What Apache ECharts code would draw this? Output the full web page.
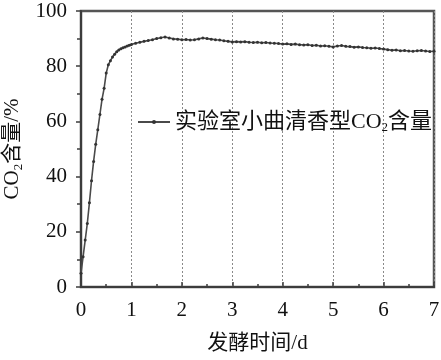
<!DOCTYPE html>
<html>
<head>
<meta charset="utf-8">
<script src="https://cdn.jsdelivr.net/npm/echarts@6/dist/echarts.min.js"></script>
<style>html,body{margin:0;padding:0;background:#fff}#c{width:441px;height:360px}</style>
</head>
<body>
<div id="c"></div>
<script>
// Day 0 -> 1, sampled hourly (t = 0 .. 1 d)
var firstDayValues = [5, 11, 17, 23, 30.5, 38.5, 45.5, 51.7, 57, 62.5, 68, 72, 77.5, 80.5, 82, 83.3, 84.3, 85.2, 85.9, 86.3, 86.7, 87.0, 87.3, 87.6, 87.9];
// Day 1 -> 7, sampled every 2 h
var laterValues = [
  88.3, 88.7, 89.0, 89.3, 89.6, 90.0, 90.3, 90.6, 90.2, 89.9, 89.8, 89.6,
  89.7, 89.5, 89.6, 89.9, 90.2, 90.0, 89.8, 89.6, 89.5, 89.2, 89.0, 88.8,
  88.9, 88.8, 88.9, 88.7, 88.6, 88.7, 88.5, 88.6, 88.4, 88.3, 88.2, 88.0,
  88.1, 87.9, 88.0, 87.8, 87.7, 87.8, 87.5, 87.6, 87.3, 87.4, 87.2, 87.0,
  87.3, 87.5, 87.2, 87.1, 86.9, 87.0, 86.8, 86.7, 86.5, 86.6, 86.4, 86.2,
  86.0, 85.8, 85.9, 85.6, 85.7, 85.5, 85.4, 85.6, 85.7, 85.5, 85.3, 85.4
];
var seriesName = '实验室小曲清香型CO₂含量';
var xName = '发酵时间/d';
var yTicks = [0, 20, 40, 60, 80, 100];
var xTicks = [0, 1, 2, 3, 4, 5, 6, 7];

var data = [];
for (var i = 0; i < firstDayValues.length; i++) data.push([i / 24, firstDayValues[i]]);
for (var j = 0; j < laterValues.length; j++) data.push([1 + (j + 1) / 12, laterValues[j]]);

var FONT = "'Liberation Serif','Noto Sans CJK SC',serif";
var dark = '#3c3c3c';
var chart = echarts.init(document.getElementById('c'), null, {renderer: 'canvas'});
chart.setOption({
  animation: false,
  backgroundColor: '#fff',
  grid: {left: 81, right: 7, top: 11, bottom: 73, containLabel: false, outerBoundsMode: 'none',
    show: true, borderColor: '#555', borderWidth: 2.5, backgroundColor: 'transparent'},
  legend: {
    left: 132, top: 106, itemWidth: 32, itemHeight: 5, itemGap: 0,
    formatter: function () { return '{a|实验室小曲清香型CO}{s|2}{a|含量}'; },
    textStyle: {
      fontFamily: FONT, fontSize: 22, color: '#111',
      rich: {
        a: {fontFamily: FONT, fontSize: 22, color: '#111', lineHeight: 25},
        s: {fontFamily: FONT, fontSize: 13, color: '#111', verticalAlign: 'bottom', lineHeight: 25, padding: [10, 0, 0, 0]}
      }
    }
  },
  xAxis: {
    type: 'value', min: 0, max: 7, interval: 1,
    name: xName, nameLocation: 'middle', nameGap: 46,
    nameTextStyle: {fontFamily: FONT, fontSize: 21, color: '#111'},
    axisLine: {show: true, onZero: false, lineStyle: {color: dark, width: 2}},
    axisTick: {show: true, inside: true, length: 5, lineStyle: {color: dark, width: 1.5}},
    minorTick: {show: true, splitNumber: 2, length: 3, lineStyle: {color: dark, width: 1.5}},
    axisLabel: {margin: 13, fontFamily: FONT, fontSize: 21, color: '#111',
      formatter: function (v) { return xTicks.indexOf(v) >= 0 ? String(v) : ''; }},
    splitLine: {show: true, lineStyle: {color: '#8a8a8a', width: 1, type: [2, 2]}}
  },
  yAxis: {
    type: 'value', min: 0, max: 100, interval: 20,
    name: '{a|CO}{s|2}{a|含量/%}', nameLocation: 'middle', nameGap: 53,
    nameTextStyle: {
      fontFamily: FONT, fontSize: 21, color: '#111',
      rich: {
        a: {fontFamily: FONT, fontSize: 21, color: '#111', lineHeight: 24},
        s: {fontFamily: FONT, fontSize: 13, color: '#111', verticalAlign: 'bottom', lineHeight: 24, padding: [10, 0, 0, 0]}
      }
    },
    axisLine: {show: true, onZero: false, lineStyle: {color: dark, width: 2}},
    axisTick: {show: true, inside: false, length: 5, lineStyle: {color: dark, width: 1.5}},
    minorTick: {show: true, splitNumber: 2, length: 4, lineStyle: {color: dark, width: 1.5}},
    axisLabel: {margin: 14, fontFamily: FONT, fontSize: 21, color: '#111',
      formatter: function (v) { return yTicks.indexOf(v) >= 0 ? String(v) : ''; }},
    splitLine: {show: false}
  },
  series: [{
    name: seriesName,
    type: 'line',
    data: data,
    symbol: 'circle', symbolSize: 3, showAllSymbol: true,
    itemStyle: {color: '#333'},
    lineStyle: {color: '#4a4a4a', width: 1.6}
  }]
});
</script>
</body>
</html>
